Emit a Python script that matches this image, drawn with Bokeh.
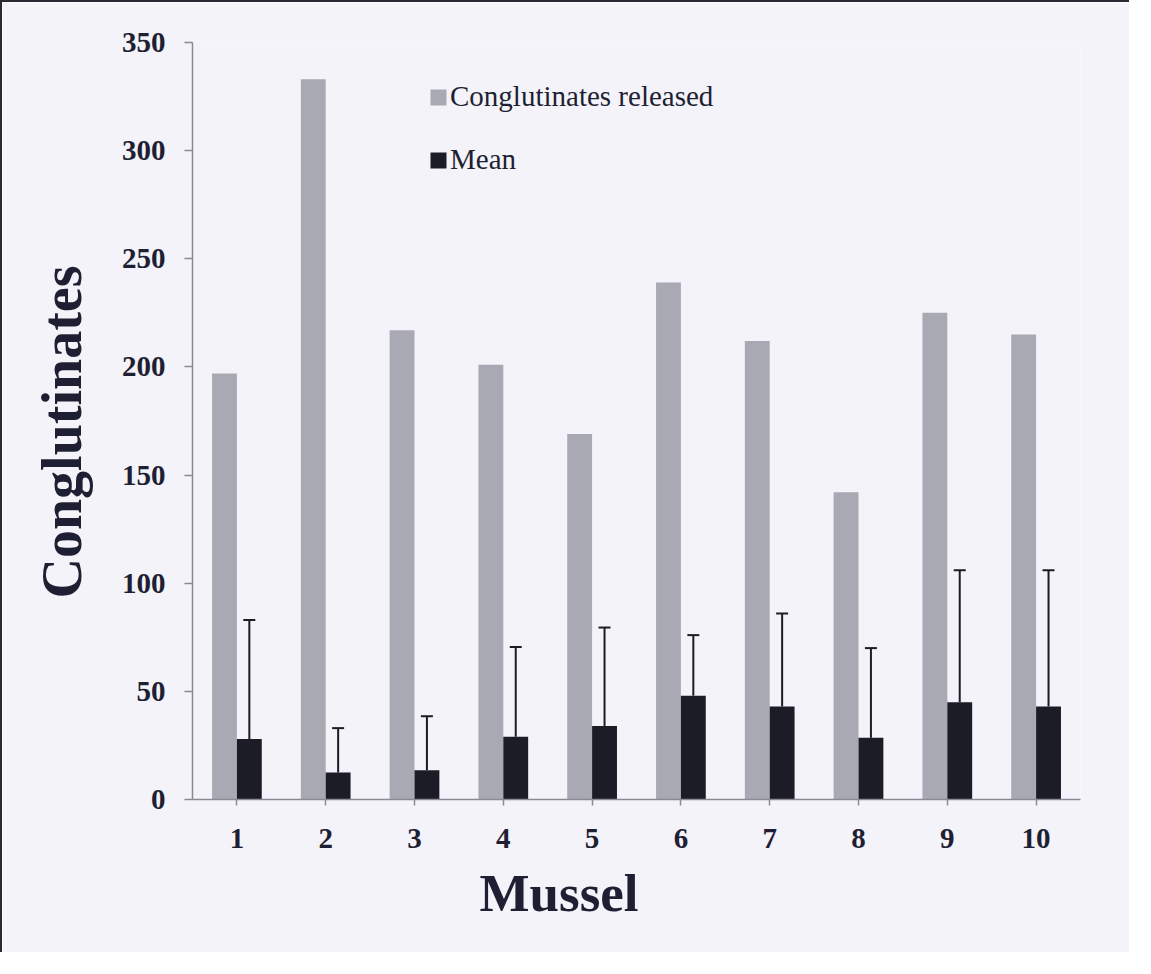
from bokeh.plotting import figure
from bokeh.models import ColumnDataSource, FixedTicker, Whisker, TeeHead, Legend, LegendItem, Title
from bokeh.transform import dodge
from bokeh.embed import file_html
from bokeh.resources import INLINE

# ---- data ----
mussels = [1, 2, 3, 4, 5, 6, 7, 8, 9, 10]
released = [197, 333, 217, 201, 169, 239, 212, 142, 225, 215]
mean = [28, 12.5, 13.5, 29, 34, 48, 43, 28.5, 45, 43]
sd = [55, 20.5, 25, 41.5, 45.5, 28, 43, 41.5, 61, 63]
y_ticks = [0, 50, 100, 150, 200, 250, 300, 350]

upper = [m + s for m, s in zip(mean, sd)]
src = ColumnDataSource(dict(x=mussels, released=released, mean=mean, upper=upper))

BG = "#f3f3f9"
TXT = "#1f1f33"
GRAY = "#a9a9b3"
BLACK = "#1c1c26"
AXC = "#8a8a94"
SERIF = "Liberation Serif"

p = figure(width=1127, height=950,
           frame_width=888, frame_height=757,
           min_border_left=190, min_border_right=49,
           min_border_top=40, min_border_bottom=153,
           x_range=(0.5, 10.5), y_range=(0, 350),
           output_backend="svg", toolbar_location=None,
           background_fill_color=BG, border_fill_color=BG)
p.styles = {"border-left": "2px solid #2a2a36", "border-top": "2px solid #2a2a36"}
p.outline_line_color = None
p.grid.visible = False

r1 = p.vbar(x=dodge("x", -0.14), top="released", width=0.28, source=src,
            fill_color=GRAY, line_color=None)
r2 = p.vbar(x=dodge("x", 0.14), top="mean", width=0.28, source=src,
            fill_color=BLACK, line_color=None)

w = Whisker(base=dodge("x", 0.14), lower="mean", upper="upper", source=src,
            line_color=BLACK, line_width=2,
            upper_head=TeeHead(size=12, line_color=BLACK, line_width=2),
            lower_head=None)
p.add_layout(w)

# axes
p.yaxis.ticker = FixedTicker(ticks=y_ticks)
p.xaxis.ticker = FixedTicker(ticks=mussels)
for ax in (p.xaxis[0], p.yaxis[0]):
    ax.axis_line_color = AXC
    ax.axis_line_width = 1.5
    ax.major_tick_line_color = AXC
    ax.major_tick_line_width = 1.5
    ax.major_tick_in = 0
    ax.minor_tick_line_color = None
    ax.major_label_text_font = SERIF
    ax.major_label_text_font_style = "bold"
    ax.major_label_text_font_size = "29px"
    ax.major_label_text_color = TXT

p.yaxis.major_tick_out = 8
p.yaxis.major_label_standoff = 19
p.xaxis.major_tick_out = 6
p.xaxis.major_label_standoff = 23

# axis titles (placed off-centre, as in the original)
xt = Title(text="Mussel", align="left", offset=287, standoff=22,
           text_font=SERIF, text_font_style="bold", text_font_size="53px",
           text_color=TXT)
p.add_layout(xt, "below")
yt = Title(text="Conglutinates", align="left", offset=201, standoff=52,
           text_font=SERIF, text_font_style="bold", text_font_size="56px",
           text_color=TXT)
p.add_layout(yt, "left")

legend = Legend(items=[LegendItem(label="Conglutinates released", renderers=[r1]),
                       LegendItem(label="Mean", renderers=[r2])],
                location=(236, 623))
legend.background_fill_alpha = 0
legend.border_line_color = None
legend.padding = 0
legend.margin = 0
legend.spacing = 30
legend.glyph_width = 20
legend.glyph_height = 20
legend.label_standoff = 2
legend.label_text_font = SERIF
legend.label_text_font_size = "29px"
legend.label_text_color = TXT
p.add_layout(legend, "center")

open("out.html", "w").write(file_html(p, INLINE))
